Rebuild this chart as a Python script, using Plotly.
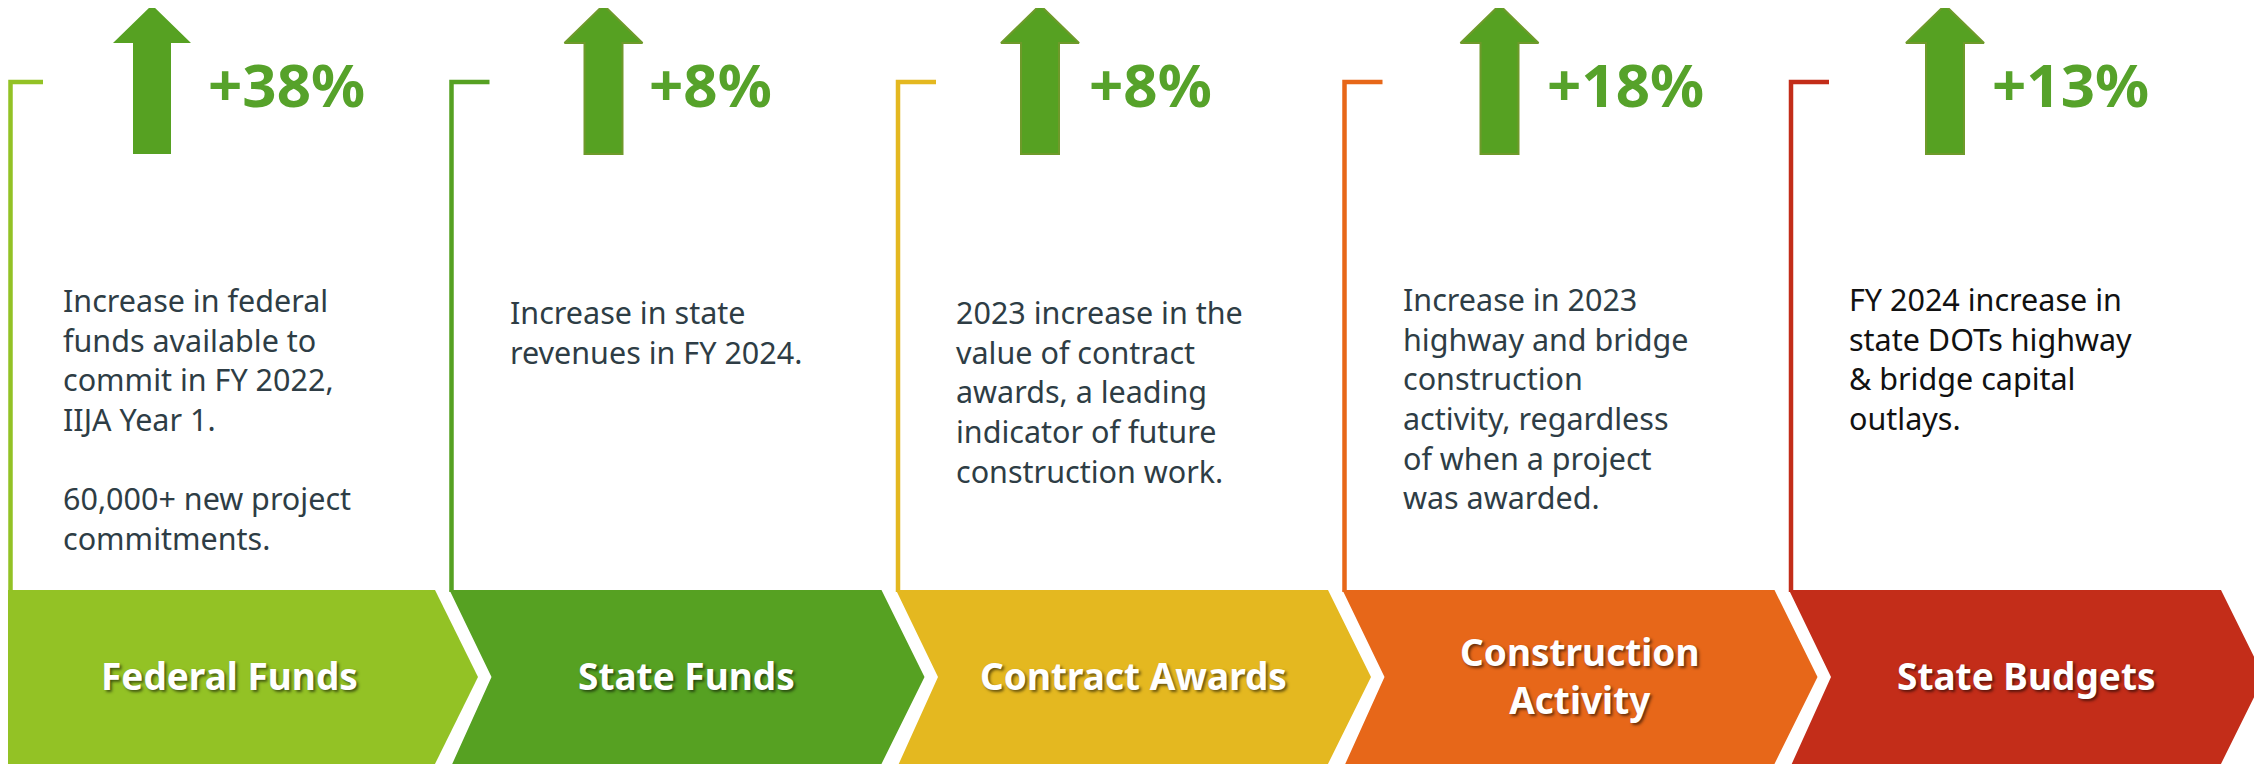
import plotly.graph_objects as go

# ---------------- data ----------------
categories = ["Federal Funds", "State Funds", "Contract Awards", "Construction<br>Activity", "State Budgets"]
pct_change = [38, 8, 8, 18, 13]
descriptions = [
    "Increase in federal<br>funds available to<br>commit in FY 2022,<br>IIJA Year 1.<br><br>60,000+ new project<br>commitments.",
    "Increase in state<br>revenues in FY 2024.",
    "2023 increase in the<br>value of contract<br>awards, a leading<br>indicator of future<br>construction work.",
    "Increase in 2023<br>highway and bridge<br>construction<br>activity, regardless<br>of when a project<br>was awarded.",
    "FY 2024 increase in<br>state DOTs highway<br>&amp; bridge capital<br>outlays.",
]

# ---------------- styles / layout ----------------
band_colors = ["#93C225", "#56A122", "#E4B820", "#E76719", "#C32D19"]
desc_colors = ["#2E3D45", "#2E3D45", "#2E3D45", "#2E3D45", "#111111"]
desc_top = [288, 300, 300, 287, 287]
arrow_dx = [149, 154, 144, 157, 156]
pct_dx = [203, 197, 191, 202, 201]
arrow_outline = [None, "#6E9A2A", "#6E9A2A", "#6E9A2A", "#6E9A2A"]
ARROW_FILL = "#56A122"
PCT_COLOR = "#56A22A"

W, H = 2262, 764
PAD = 8  # page body margin compensation
X0, STEP = 3, 446.5
BODY_W, TIP, NOTCH = 432, 475, 42
BAND_TOP, BAND_BOT, BAND_MID = 590, 770, 677
BR_TOP = 82

fig = go.Figure()

for i, cat in enumerate(categories):
    L = X0 + i * STEP
    # chevron band
    xs = [L, L + BODY_W, L + TIP, L + BODY_W - (BAND_BOT - 764) * 0.5, L]
    ys = [BAND_TOP, BAND_TOP, BAND_MID, BAND_BOT, BAND_BOT]
    if i > 0:
        xs.append(L + NOTCH)
        ys.append(BAND_MID)
    xs.append(L); ys.append(BAND_TOP)
    fig.add_trace(go.Scatter(x=xs, y=ys, mode="lines", fill="toself",
                             fillcolor=band_colors[i], line=dict(width=0),
                             hoverinfo="skip", showlegend=False))
    # bracket
    bx = max(L + 2, PAD + 2.5)
    fig.add_trace(go.Scatter(x=[bx, bx, L + 40], y=[BAND_TOP + 2, BR_TOP, BR_TOP], mode="lines",
                             line=dict(color=band_colors[i], width=4.5),
                             hoverinfo="skip", showlegend=False))
    # up arrow
    cx = L + arrow_dx[i]
    ax = [cx, cx + 39, cx + 19, cx + 19, cx - 19, cx - 19, cx - 39, cx]
    ay = [5, 43, 43, 154, 154, 43, 43, 5]
    oc = arrow_outline[i]
    fig.add_trace(go.Scatter(x=ax, y=ay, mode="lines", fill="toself", fillcolor=ARROW_FILL,
                             line=dict(color=oc if oc else ARROW_FILL, width=2 if oc else 0),
                             hoverinfo="skip", showlegend=False))
    # percent text
    fig.add_annotation(x=L + pct_dx[i], y=84, text=f"<b>+{pct_change[i]}%</b>", showarrow=False,
                       xanchor="left", yanchor="middle",
                       font=dict(family="Noto Sans", size=60, color=PCT_COLOR))
    # description
    fig.add_annotation(x=L + 58, y=desc_top[i] - 11, text=descriptions[i], showarrow=False,
                       xanchor="left", yanchor="top", align="left",
                       font=dict(family="Noto Sans", size=30.5, color=desc_colors[i]))
    # chevron label
    lx = L + (226 if i == 0 else 237)
    fig.add_annotation(x=lx, y=675, text=f"<b>{cat}</b>", showarrow=False,
                       xanchor="center", yanchor="middle", align="center",
                       font=dict(family="Noto Sans", size=37, color="white",
                                 shadow="2px 2px 3px rgba(0,0,0,0.55)"))

fig.update_xaxes(range=[PAD, W], visible=False, fixedrange=True)
fig.update_yaxes(range=[H, PAD], visible=False, fixedrange=True)
fig.update_layout(width=W - PAD, height=H - PAD, margin=dict(l=0, r=0, t=0, b=0),
                  paper_bgcolor="white", plot_bgcolor="white", showlegend=False)

fig.write_html("out.html")
